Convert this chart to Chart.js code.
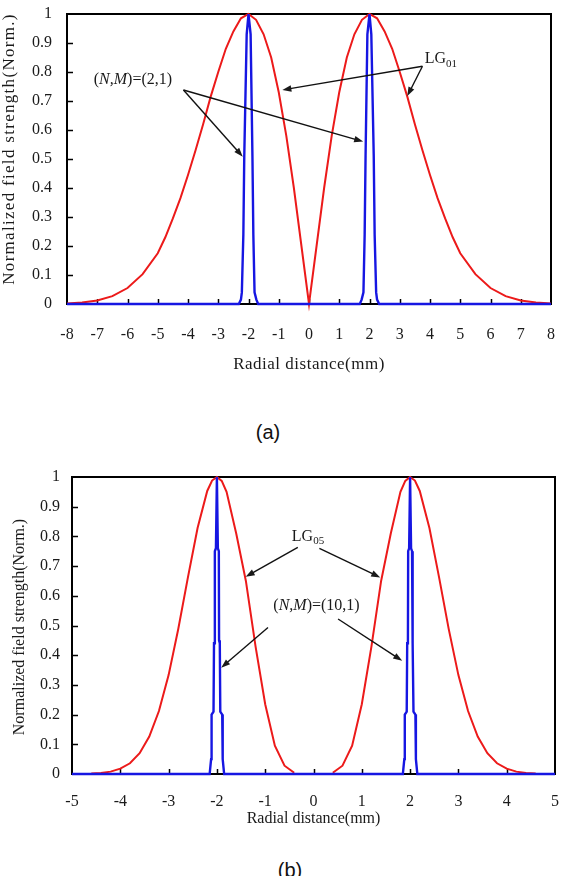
<!DOCTYPE html>
<html>
<head>
<meta charset="utf-8">
<script src="https://cdn.jsdelivr.net/npm/chart.js@4.4.1/dist/chart.umd.min.js"></script>
<style>
  html, body { margin: 0; padding: 0; background: #fff; overflow: hidden; }
  body { width: 563px; height: 876px; position: relative; }
  .box { position: absolute; left: 0; width: 563px; height: 380px; }
  #boxA { top: 0; }
  #boxB { top: 460px; }
  .cap { position: absolute; font-family: "Liberation Sans", Arial, sans-serif; font-size: 20px; color: #111; transform: translateX(-50%); white-space: nowrap; }
</style>
</head>
<body>
<div class="box" id="boxA"><canvas id="chartA"></canvas></div>
<div class="box" id="boxB"><canvas id="chartB"></canvas></div>
<div class="cap" style="left:268px; top:421px;">(a)</div>
<div class="cap" style="left:290px; top:859px;">(b)</div>
<script>
// (a) LG01 beam vs (N,M)=(2,1)
const redAx = [-8, -7.5, -7, -6.5, -6, -5.5, -5, -4.75, -4.5, -4.25, -4, -3.75, -3.5, -3.25, -3, -2.75, -2.5, -2.25, -2, -1.75, -1.5, -1.25, -1, -0.75, -0.5, -0.25, 0,
               0.25, 0.5, 0.75, 1, 1.25, 1.5, 1.75, 2, 2.25, 2.5, 2.75, 3, 3.25, 3.5, 3.75, 4, 4.25, 4.5, 4.75, 5, 5.5, 6, 6.5, 7, 7.5, 8];
const redAy = [0.002, 0.005, 0.012, 0.027, 0.055, 0.103, 0.175, 0.23, 0.295, 0.365, 0.445, 0.53, 0.62, 0.715, 0.80, 0.88, 0.94, 0.985, 1.0, 0.98, 0.93, 0.85, 0.73, 0.58, 0.40, 0.20, 0,
               0.20, 0.40, 0.58, 0.73, 0.85, 0.93, 0.98, 1.0, 0.985, 0.94, 0.88, 0.80, 0.715, 0.62, 0.53, 0.445, 0.365, 0.295, 0.23, 0.175, 0.103, 0.055, 0.027, 0.012, 0.005, 0.002];
const blueAx = [-8, -2.32, -2.25, -2.22, -2.17, -2.14, -2.06, -2.0, -1.93, -1.87, -1.84, -1.8, -1.74, -1.68,
                1.68, 1.74, 1.8, 1.84, 1.87, 1.93, 2.0, 2.06, 2.14, 2.17, 2.22, 2.25, 2.32, 8];
const blueAy = [0, 0, 0.015, 0.04, 0.24, 0.51, 0.93, 1.0, 0.93, 0.51, 0.24, 0.04, 0.015, 0,
                0, 0.015, 0.04, 0.24, 0.51, 0.93, 1.0, 0.93, 0.51, 0.24, 0.04, 0.015, 0, 0];
const xTicksA = [-8, -7, -6, -5, -4, -3, -2, -1, 0, 1, 2, 3, 4, 5, 6, 7, 8];

// (b) LG05 beam vs (N,M)=(10,1)
const redBx = [-4.6, -4.4, -4.2, -4, -3.8, -3.6, -3.4, -3.2, -3, -2.8, -2.6, -2.4, -2.2, -2.1, -2, -1.9, -1.8, -1.6, -1.4, -1.2, -1, -0.8, -0.6, -0.4, 0,
               0.4, 0.6, 0.8, 1, 1.2, 1.4, 1.6, 1.8, 1.9, 2, 2.1, 2.2, 2.4, 2.6, 2.8, 3, 3.2, 3.4, 3.6, 3.8, 4, 4.2, 4.4, 4.6];
const redBy = [0.0015, 0.0035, 0.008, 0.018, 0.036, 0.07, 0.126, 0.212, 0.333, 0.488, 0.662, 0.828, 0.953, 0.988, 1, 0.987, 0.95, 0.81, 0.65, 0.43, 0.235, 0.095, 0.028, 0.004, null,
               0.004, 0.028, 0.095, 0.235, 0.43, 0.65, 0.81, 0.95, 0.987, 1, 0.988, 0.953, 0.828, 0.662, 0.488, 0.333, 0.212, 0.126, 0.07, 0.036, 0.018, 0.008, 0.0035, 0.0015];
const blueBx = [-5, -2.15, -2.12, -2.11, -2.07, -2.06, -2.045, -2.04, -2.02, -2.0, -1.98, -1.96, -1.955, -1.94, -1.93, -1.89, -1.88, -1.85,
                1.85, 1.88, 1.89, 1.93, 1.94, 1.955, 1.96, 1.98, 2.0, 2.02, 2.04, 2.045, 2.06, 2.07, 2.11, 2.12, 2.15, 5];
const blueBy = [0, 0, 0.05, 0.2, 0.21, 0.44, 0.45, 0.75, 0.76, 1.0, 0.76, 0.75, 0.45, 0.44, 0.21, 0.2, 0.05, 0,
                0, 0.05, 0.2, 0.21, 0.44, 0.45, 0.75, 0.76, 1.0, 0.76, 0.75, 0.45, 0.44, 0.21, 0.2, 0.05, 0, 0];
const xTicksB = [-5, -4, -3, -2, -1, 0, 1, 2, 3, 4, 5];

const yTicks = [0, 0.1, 0.2, 0.3, 0.4, 0.5, 0.6, 0.7, 0.8, 0.9, 1];

const RED = '#ec1a1a', BLUE = '#1616e2', INK = '#1a1a1a';
const SERIF = '"Liberation Serif", "Times New Roman", serif';

const pairs = (xs, ys) => xs.map((x, i) => ({ x: x, y: ys[i] }));

function drawArrow(ctx, x0, y0, x1, y1) {
    const a = Math.atan2(y1 - y0, x1 - x0), L = 9, W = 3.2;
    const c = Math.cos(a), s = Math.sin(a);
    ctx.beginPath();
    ctx.moveTo(x0, y0);
    ctx.lineTo(x1 - L * 0.7 * c, y1 - L * 0.7 * s);
    ctx.stroke();
    ctx.beginPath();
    ctx.moveTo(x1, y1);
    ctx.lineTo(x1 - L * c + W * s, y1 - L * s - W * c);
    ctx.lineTo(x1 - L * c - W * s, y1 - L * s + W * c);
    ctx.closePath();
    ctx.fill();
}

// parts: [text, size, italic, dy]
function drawRich(ctx, parts, cx, cy) {
    const fontOf = p => (p[2] ? 'italic ' : '') + p[1] + 'px ' + SERIF;
    let total = 0;
    parts.forEach(p => { ctx.font = fontOf(p); total += ctx.measureText(p[0]).width; });
    let x = cx - total / 2;
    parts.forEach(p => {
        ctx.font = fontOf(p);
        ctx.fillText(p[0], x, cy + (p[3] || 0));
        x += ctx.measureText(p[0]).width;
    });
}

function buildChart(id, o) {
    const decor = {
        id: 'decor',
        beforeDatasetsDraw(chart) {
            const { ctx, chartArea: a, scales: { x, y } } = chart;
            ctx.save();
            ctx.strokeStyle = '#000';
            ctx.lineWidth = 1.5;
            ctx.beginPath();
            o.xTicks.slice(1, -1).forEach(v => {
                const px = Math.round(x.getPixelForValue(v)) + 0.5;
                ctx.moveTo(px, a.bottom); ctx.lineTo(px, a.bottom - 5);
            });
            yTicks.slice(1, -1).forEach(v => {
                const py = Math.round(y.getPixelForValue(v)) + 0.5;
                ctx.moveTo(a.left, py); ctx.lineTo(a.left + 6, py);
            });
            ctx.stroke();
            ctx.lineWidth = 2;
            ctx.strokeRect(a.left, a.top, a.right - a.left, a.bottom - a.top);
            ctx.restore();
        },
        afterDatasetsDraw(chart) {
            const { ctx, chartArea: a, scales: { x, y } } = chart;
            ctx.save();
            ctx.fillStyle = INK;
            ctx.strokeStyle = '#111';
            ctx.lineWidth = 1.4;
            o.arrows.forEach(r => drawArrow(ctx, x.getPixelForValue(r[0]), y.getPixelForValue(r[1]),
                                                 x.getPixelForValue(r[2]), y.getPixelForValue(r[3])));
            ctx.textBaseline = 'middle';
            ctx.textAlign = 'left';
            o.notes.forEach(n => drawRich(ctx, n.parts, x.getPixelForValue(n.x), y.getPixelForValue(n.y)));

            // axis titles
            ctx.textAlign = 'center';
            ctx.font = o.titleSize + 'px ' + SERIF;
            ctx.letterSpacing = o.xSpacing + 'px';
            ctx.fillText('Radial distance(mm)', (a.left + a.right) / 2, a.bottom + o.xTitleDy);
            ctx.letterSpacing = o.ySpacing + 'px';
            ctx.translate(o.yTitleX, (a.top + a.bottom) / 2 + o.yTitleDy);
            ctx.rotate(-Math.PI / 2);
            ctx.fillText('Normalized field strength(Norm.)', 0, 0);
            ctx.restore();
        }
    };

    return new Chart(document.getElementById(id).getContext('2d'), {
        type: 'scatter',
        data: {
            datasets: [
                { label: o.blueName, data: pairs(o.bx, o.by), showLine: true, borderColor: BLUE, borderWidth: 2.4,
                  pointRadius: 0, tension: 0, clip: false },
                { label: o.redName, data: pairs(o.rx, o.ry), showLine: true, borderColor: RED, borderWidth: 2,
                  pointRadius: 0, tension: 0, spanGaps: false, clip: false }
            ]
        },
        options: {
            responsive: true,
            maintainAspectRatio: false,
            animation: false,
            layout: { padding: o.pad },
            plugins: { legend: { display: false }, tooltip: { enabled: false } },
            scales: {
                x: {
                    type: 'linear', min: o.xTicks[0], max: o.xTicks[o.xTicks.length - 1],
                    grid: { display: false, drawTicks: false }, border: { display: false },
                    afterBuildTicks: s => { s.ticks = o.xTicks.map(v => ({ value: v })); },
                    afterFit: s => { s.height = o.xH; s.paddingLeft = 0; s.paddingRight = 0; },
                    ticks: { padding: o.xPad, maxRotation: 0, autoSkip: false, color: INK,
                             font: { family: SERIF, size: 16 }, callback: v => String(v) }
                },
                y: {
                    type: 'linear', min: 0, max: 1,
                    grid: { display: false, drawTicks: false }, border: { display: false },
                    afterBuildTicks: s => { s.ticks = yTicks.map(v => ({ value: v })); },
                    afterFit: s => { s.width = o.yW; s.paddingTop = 0; s.paddingBottom = 0; },
                    ticks: { padding: o.yPad, color: INK, font: { family: SERIF, size: 16 },
                             callback: v => String(+v.toFixed(1)) }
                }
            }
        },
        plugins: [decor]
    });
}

buildChart('chartA', {
    rx: redAx, ry: redAy, bx: blueAx, by: blueAy, xTicks: xTicksA,
    redName: 'LG01', blueName: '(N,M)=(2,1)',
    pad: { top: 14, right: 12, left: 0, bottom: 0 }, yW: 67, xH: 76, xPad: 21, yPad: 15,
    titleSize: 17, xSpacing: 0.5, ySpacing: 1.3, xTitleDy: 61, yTitleX: 10, yTitleDy: -10,
    arrows: [[-4.15, 0.738, -2.19, 0.508], [-4.15, 0.738, 1.79, 0.56],
             [3.75, 0.82, -0.88, 0.738], [3.75, 0.82, 3.25, 0.717]],
    notes: [
        { x: -5.82, y: 0.772, parts: [['(', 16], ['N,M', 16, true], [')=(2,1)', 16]] },
        { x: 4.36, y: 0.845, parts: [['LG', 16, false, 0], ['01', 11, false, 5]] }
    ]
});

buildChart('chartB', {
    rx: redBx, ry: redBy, bx: blueBx, by: blueBy, xTicks: xTicksB,
    redName: 'LG05', blueName: '(N,M)=(10,1)',
    pad: { top: 17, right: 8, left: 0, bottom: 0 }, yW: 72, xH: 66, xPad: 18, yPad: 12,
    titleSize: 16, xSpacing: 0, ySpacing: 0, xTitleDy: 45, yTitleX: 20, yTitleDy: 1.5,
    arrows: [[-0.325, 0.763, -1.404, 0.664], [0.122, 0.76, 1.381, 0.662],
             [-0.942, 0.493, -1.911, 0.358], [0.509, 0.522, 1.836, 0.381]],
    notes: [
        { x: -0.114, y: 0.8, parts: [['LG', 16, false, 0], ['05', 11, false, 5]] },
        { x: 0.062, y: 0.567, parts: [['(', 16], ['N,M', 16, true], [')=(10,1)', 16]] }
    ]
});
</script>
</body>
</html>
